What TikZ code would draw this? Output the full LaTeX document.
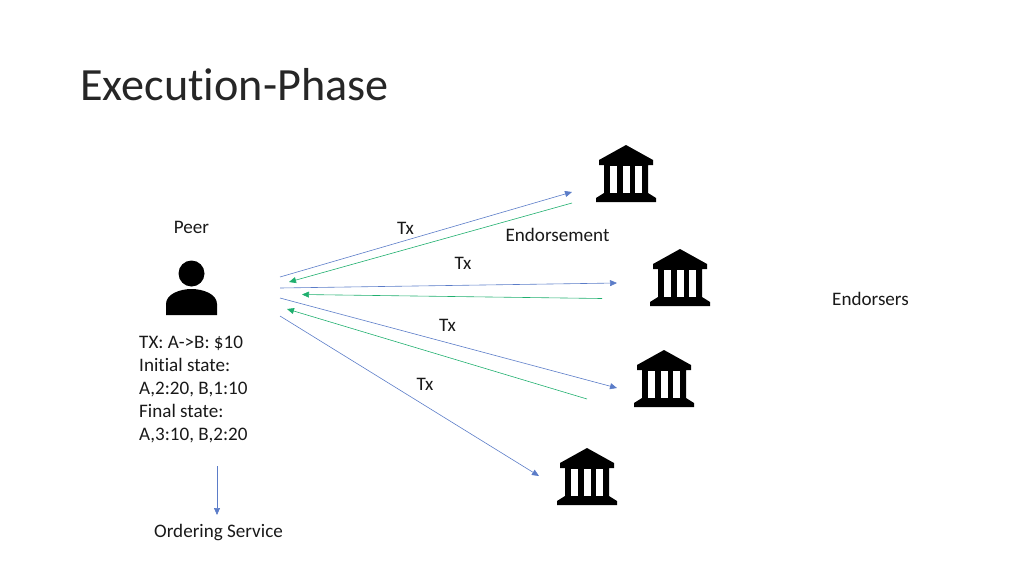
\documentclass[tikz,border=0pt]{standalone}
\usepackage{fontspec}
\setmainfont[Ligatures=CommonOff]{Carlito}
\usetikzlibrary{arrows.meta}
\definecolor{txblue}{HTML}{5B7CC8}
\definecolor{endgreen}{HTML}{1FAF6E}
\tikzset{
  label/.style={inner sep=0pt, font=\fontsize{19.1}{23}\selectfont, text=black!90},
  txline/.style={draw=txblue, line width=0.6pt, -{Triangle[length=7pt,width=6pt]}},
  endline/.style={draw=endgreen, line width=0.6pt, -{Triangle[length=7pt,width=6pt]}},
  bank/.pic={
    \fill[black] (0,0) -- (27,15) -- (27,20) -- (22,20) -- (22,48) -- (30,53) -- (30,57)
      -- (-30,57) -- (-30,53) -- (-22,48) -- (-22,20) -- (-27,20) -- (-27,15) -- cycle;
    \foreach \xa in {-16,-3.3,9.3}
      \fill[white] (\xa,21) rectangle ++(6.9,27);
  }
}
\begin{document}
\begin{tikzpicture}[x=1pt, y=-1pt]
\useasboundingbox (0,0) rectangle (1024,576);
\node[anchor=west, inner sep=0pt, font=\fontsize{46.2}{50}\selectfont, text=black!85] (title) at (80,85) {Execution-Phase};

% peer
\fill[black] (191.5,273.5) circle (13);
\fill[black] (166,315) -- (166,304) .. controls (166,294) and (180,289) .. (191.5,289)
  .. controls (203,289) and (217,294) .. (217,304) -- (217,315) -- cycle;
\node[label] (peer) at (191.5,227) {Peer};
\node[label, anchor=north west, align=left] (state) at (139,336) {TX: A->B: \$10\\Initial state:\\A,2:20, B,1:10\\Final state:\\A,3:10, B,2:20};
\node[label] (order) at (218.5,532) {Ordering Service};

% endorsers
\pic at (626,145) {bank};
\pic at (680,249) {bank};
\pic at (664,350) {bank};
\pic at (587,448) {bank};
\node[label] (endorsers) at (870.5,299) {Endorsers};
\node[label] (endorsement) at (557.5,235) {Endorsement};
\node[label] (tx1) at (405.5,228.5) {Tx};
\node[label] (tx2) at (463,263) {Tx};
\node[label] (tx3) at (447.5,325.5) {Tx};
\node[label] (tx4) at (425,384.5) {Tx};

% end points
\coordinate (p1) at (280,277);   \coordinate (e1) at (572,192);
\coordinate (e1b) at (572,203);  \coordinate (p1b) at (289,282);
\coordinate (p2) at (280,288);   \coordinate (e2) at (617,283);
\coordinate (e2b) at (602,298.5);\coordinate (p2b) at (302,294.5);
\coordinate (p3) at (280,298);   \coordinate (e3) at (617,388);
\coordinate (e3b) at (587,399);  \coordinate (p3b) at (287,309);
\coordinate (p4) at (280,316);   \coordinate (e4) at (539,476);
\coordinate (s1) at (217,466);   \coordinate (s2) at (217,515);

\draw[txline] (p1) -- (e1);
\draw[endline] (e1b) -- (p1b);
\draw[txline] (p2) -- (e2);
\draw[endline] (e2b) -- (p2b);
\draw[txline] (p3) -- (e3);
\draw[endline] (e3b) -- (p3b);
\draw[txline] (p4) -- (e4);
\draw[txline] (s1) -- (s2);
\end{tikzpicture}
\end{document}
